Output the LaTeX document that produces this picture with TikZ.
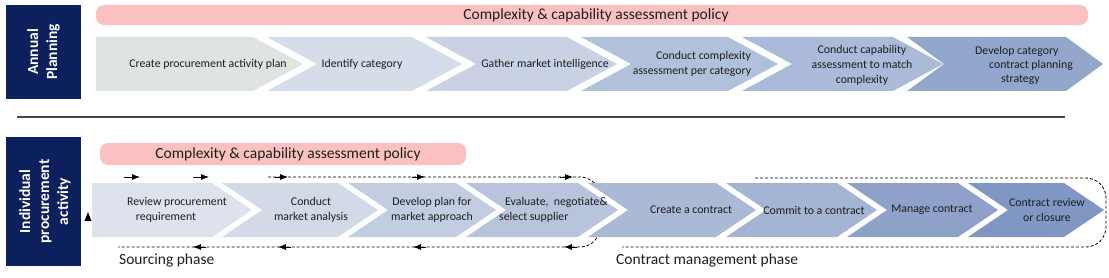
\documentclass[tikz,border=0pt]{standalone}
\usepackage{fontspec}
\setmainfont{Carlito}
\usetikzlibrary{arrows.meta}
\definecolor{navy}{RGB}{12,32,94}
\definecolor{pinkbar}{RGB}{251,193,193}
\definecolor{txt}{RGB}{30,30,30}
\definecolor{sep}{RGB}{70,70,70}
\definecolor{ca}{RGB}{223,228,227}
\definecolor{cb}{RGB}{213,220,234}
\definecolor{cc}{RGB}{200,210,228}
\definecolor{cd}{RGB}{178,193,219}
\definecolor{ce}{RGB}{170,186,216}
\definecolor{cf}{RGB}{147,167,204}
\definecolor{ba}{RGB}{221,226,236}
\definecolor{bb}{RGB}{210,217,231}
\definecolor{bc}{RGB}{195,205,225}
\definecolor{bd}{RGB}{183,196,220}
\definecolor{be}{RGB}{169,185,214}
\definecolor{bf}{RGB}{164,181,212}
\definecolor{bg}{RGB}{142,162,201}
\definecolor{bh}{RGB}{128,151,195}
% color, L, R, d, ytop, ybot, notch(0/1)
\newcommand{\mychev}[7]{%
  \fill[#1] (#2,#5) -- (#3,#5) -- ({#3+#4},{(#5+#6)/2}) -- (#3,#6) -- (#2,#6) -- ({#2+#7*#4},{(#5+#6)/2}) -- cycle;}
\begin{document}
\begin{tikzpicture}[x=1pt,y=-1pt,
  sidebox/.style={fill=navy},
  sidetext/.style={text=white,font=\fontsize{15.5}{19}\selectfont\bfseries,align=center,rotate=90,inner sep=0pt},
  pinkbox/.style={fill=pinkbar,rounded corners=8pt},
  bartext/.style={text=txt,font=\fontsize{15.5}{18}\selectfont,inner sep=0pt},
  ctext/.style={text=txt,font=\fontsize{11.8}{15}\selectfont,align=center,inner sep=0pt},
  phasetext/.style={text=txt,font=\fontsize{15.5}{18}\selectfont,inner sep=0pt,anchor=west},
  loopline/.style={black,line width=0.8pt,dash pattern=on 3pt off 2pt},
  midarrow/.style={-{Latex[length=8pt,width=6pt]},black,line width=0.8pt}]
\useasboundingbox (0,0) rectangle (1109,278);

% left boxes
\fill[sidebox] (6,5) rectangle (81,99);
\node[sidetext] (ap) at (43.5,52) {Annual\\Planning};
\fill[sidebox] (6,137) rectangle (81,266);
\node[sidetext] (ip) at (45,201.5) {Individual\\procurement\\activity};

% top pink bar
\fill[pinkbox] (96,5) rectangle (1088,25);
\node[bartext] (tp) at (596,15.5) {Complexity \& capability assessment policy};

% top chevrons
\mychev{ca}{96}{253}{50}{37}{91}{0}
\mychev{cb}{267}{412}{50}{37}{91}{1}
\mychev{cc}{426}{567}{50}{37}{91}{1}
\mychev{cd}{581}{728}{50}{37}{91}{1}
\mychev{ce}{742}{893}{50}{37}{91}{1}
\mychev{cf}{907}{1066}{37}{37}{91}{1}

\node[ctext] (t1) at (208,64) {Create procurement activity plan};
\node[ctext] (t2) at (362,64) {Identify category};
\node[ctext] (t3) at (545,64) {Gather market intelligence};
\node[ctext,align=right] (t4) at (692,64) {Conduct complexity\\assessment per category};
\node[ctext] (t5) at (862,65) {Conduct capability\\assessment to match\\complexity};
\node[ctext,anchor=west] (t6a) at (975,51) {Develop category};
\node[ctext,anchor=west] (t6b) at (989,65.5) {contract planning};
\node[ctext,anchor=west] (t6c) at (1001,80) {strategy};

% separator
\draw[sep,line width=1.3pt] (17,117) -- (1065,117);

% bottom pink bar
\fill[pinkbox] (100,143) rectangle (466,165);
\node[bartext] (bp) at (288,154.5) {Complexity \& capability assessment policy};

% dashed loops
\begin{scope}
  \clip (0,0) rectangle (1109,186);
  \draw[loopline,rounded corners=20pt] (268,177) -- (600,177) -- (600,247) -- (118,247);
\end{scope}
\begin{scope}
  \clip (0,235) rectangle (1109,278);
  \draw[loopline,rounded corners=20pt] (268,177) -- (600,177) -- (600,247) -- (118,247);
\end{scope}
\draw[loopline,rounded corners=20pt] (755,178) -- (1106,178) -- (1106,247) -- (622,247);

% arrowheads on loops
\draw[midarrow] (124,177) -- (140,177);
\draw[midarrow] (193,177) -- (209,177);
\draw[midarrow] (275,177) -- (288,177);
\draw[midarrow] (412,177) -- (425,177);
\draw[midarrow] (560,177) -- (573,177);
\draw[midarrow] (577,247) -- (564,247);
\draw[midarrow] (426,247) -- (413,247);
\draw[midarrow] (291,247) -- (278,247);
\draw[midarrow] (206,247) -- (193,247);
\fill[black] (84.5,221) -- (91.5,221) -- (88,212) -- cycle;

% bottom chevrons
\mychev{ba}{92}{212}{40}{183}{237}{0}
\mychev{bb}{222}{338}{40}{183}{237}{1}
\mychev{bc}{348}{456}{40}{183}{237}{1}
\mychev{bd}{466}{578}{40}{183}{237}{1}
\mychev{be}{588}{716}{40}{183}{237}{1}
\mychev{bf}{726}{837}{40}{183}{237}{1}
\mychev{bg}{847}{958}{40}{183}{237}{1}
\mychev{bh}{968}{1064}{40}{183}{237}{1}

\node[ctext] (s1a) at (177,202.5) {Review procurement};
\node[ctext] (s1b) at (166,217.5) {requirement};
\node[ctext] (s2) at (311,210) {Conduct\\market analysis};
\node[ctext] (s3) at (432,210) {Develop plan for\\market approach};
\node[ctext,anchor=west] (s4a) at (505,202.5) {Evaluate,\ \ negotiate\&};
\node[ctext,anchor=west] (s4b) at (499,217.5) {select supplier};
\node[ctext] (s5) at (691,210) {Create a contract};
\node[ctext] (s6) at (814,210) {Commit to a contract};
\node[ctext] (s7) at (932,210) {Manage contract};
\node[ctext] (s8) at (1047,210) {Contract review\\or closure};

% phase labels
\node[phasetext] (sp) at (119,260) {Sourcing phase};
\node[phasetext] (cp) at (616,260) {Contract management phase};
\end{tikzpicture}
\end{document}
